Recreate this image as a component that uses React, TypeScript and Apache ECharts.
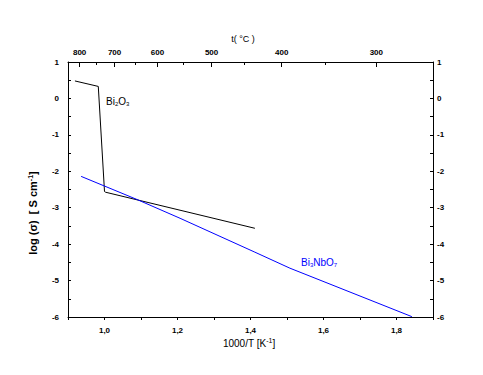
import React, { useEffect, useRef } from "react";
import * as echarts from "echarts";

// Bi2O3 conductivity: [1000/T (K^-1), log(sigma)]
const bi2o3X = [0.919, 0.983, 1.0, 1.003, 1.412];
const bi2o3Y = [0.48, 0.33, -2.555, -2.575, -3.565];

// Bi3NbO7 conductivity
const bi3nbo7X = [0.936, 1.088, 1.207, 1.412, 1.508, 1.842];
const bi3nbo7Y = [-2.14, -2.77, -3.29, -4.22, -4.66, -5.99];

// top axis temperatures (°C)
const tempMajor = [800, 700, 600, 500, 400, 300];
const tempMinor = [750, 650, 550, 450, 350];

const bottomLabels = [1.0, 1.2, 1.4, 1.6, 1.8];

const toInvT = (t: number) => 1000 / (t + 273.15);

export default function App() {
  const ref = useRef<HTMLDivElement>(null);
  useEffect(() => {
    if (!ref.current) return;
    const chart = echarts.init(ref.current, undefined, { renderer: "svg" });
    const font = "Liberation Sans, Arial, sans-serif";
    const tickLabel = { fontSize: 8, color: "#000", fontFamily: font, fontWeight: "bold" as const };
    const axisLine = { show: true, onZero: false, lineStyle: { color: "#000", width: 1 } };
    chart.setOption({
      animation: false,
      backgroundColor: "#fff",
      grid: { left: 68, right: 50, top: 62, bottom: 58, containLabel: false },
      xAxis: [
        {
          type: "value",
          position: "bottom",
          min: 0.9,
          max: 1.9,
          interval: 0.1,
          axisLine,
          axisTick: { show: true, inside: false, length: 3, lineStyle: { color: "#000" } },
          axisLabel: {
            ...tickLabel,
            margin: 9,
            customValues: bottomLabels,
            formatter: (v: number) => v.toFixed(1).replace(".", ","),
          },
          splitLine: { show: false },
        },
        {
          type: "value",
          position: "top",
          min: 0.9,
          max: 1.9,
          axisLine,
          axisTick: {
            show: true,
            inside: true,
            length: 5,
            customValues: tempMajor.map(toInvT),
            lineStyle: { color: "#000" },
          },
          axisLabel: {
            ...tickLabel,
            margin: 6,
            customValues: tempMajor.map(toInvT),
            formatter: (v: number) => String(Math.round(1000 / v - 273.15)),
          },
          splitLine: { show: false },
        },
        {
          type: "value",
          position: "top",
          min: 0.9,
          max: 1.9,
          axisLine: { show: false, onZero: false },
          axisTick: {
            show: true,
            inside: true,
            length: 3,
            customValues: tempMinor.map(toInvT),
            lineStyle: { color: "#000" },
          },
          axisLabel: { show: false },
          splitLine: { show: false },
        },
      ],
      yAxis: [
        {
          type: "value",
          position: "left",
          min: -6,
          max: 1,
          interval: 1,
          axisLine,
          axisTick: { show: true, inside: true, length: 3, lineStyle: { color: "#000" } },
          minorTick: { show: true, splitNumber: 2, length: 3, lineStyle: { color: "#000" } },
          axisLabel: { ...tickLabel, margin: 9 },
          splitLine: { show: false },
        },
        {
          type: "value",
          position: "right",
          min: -6,
          max: 1,
          interval: 1,
          axisLine,
          axisTick: { show: true, inside: true, length: 3, lineStyle: { color: "#000" } },
          minorTick: { show: true, splitNumber: 2, length: 3, lineStyle: { color: "#000" } },
          axisLabel: { ...tickLabel, margin: 4 },
          splitLine: { show: false },
        },
      ],
      series: [
        {
          name: "Bi2O3",
          type: "line",
          xAxisIndex: 0,
          yAxisIndex: 0,
          data: bi2o3X.map((x, i) => [x, bi2o3Y[i]]),
          symbol: "none",
          lineStyle: { color: "#000", width: 1 },
        },
        {
          name: "Bi3NbO7",
          type: "line",
          xAxisIndex: 0,
          yAxisIndex: 0,
          data: bi3nbo7X.map((x, i) => [x, bi3nbo7Y[i]]),
          symbol: "none",
          lineStyle: { color: "#0000ff", width: 1 },
        },
      ],
      graphic: [
        {
          type: "text",
          x: 243,
          y: 39,
          style: {
            text: "t( °C )",
            font: `9px ${font}`,
            fill: "#000",
            align: "center",
            verticalAlign: "middle",
          },
        },
        {
          type: "text",
          x: 249,
          y: 343,
          style: {
            text: "1000/T [K{sup|-1}]",
            fontSize: 10,
            fontFamily: font,
            fill: "#000",
            align: "center",
            verticalAlign: "middle",
            rich: {
              sup: { fontSize: 7, fontFamily: font, verticalAlign: "top", padding: [0, 0, 5, 0] },
            },
          },
        },
        {
          type: "text",
          x: 33,
          y: 213,
          rotation: Math.PI / 2,
          style: {
            text: "log (σ)  [ S cm{sup|-1}]",
            fontSize: 11,
            fontWeight: "bold",
            fontFamily: font,
            fill: "#000",
            align: "center",
            verticalAlign: "middle",
            rich: {
              sup: { fontSize: 7, fontWeight: "bold", fontFamily: font, padding: [0, 0, 6, 0] },
            },
          },
        },
        {
          type: "text",
          x: 106,
          y: 101,
          style: {
            text: "Bi{sub|2}O{sub|3}",
            fontSize: 10,
            fontFamily: font,
            fill: "#000",
            align: "left",
            verticalAlign: "middle",
            rich: {
              sub: { fontSize: 6, fontFamily: font, fill: "#000", padding: [5, 0, 0, 0] },
            },
          },
        },
        {
          type: "text",
          x: 301,
          y: 262,
          style: {
            text: "Bi{sub|3}NbO{sub|7}",
            fontSize: 10,
            fontFamily: font,
            fill: "#0000ff",
            align: "left",
            verticalAlign: "middle",
            rich: {
              sub: { fontSize: 6, fontFamily: font, fill: "#0000ff", padding: [5, 0, 0, 0] },
            },
          },
        },
      ],
    });
    return () => chart.dispose();
  }, []);
  return (
    <div
      ref={ref}
      style={{ position: "absolute", left: 0, top: 0, width: 483, height: 375 }}
    />
  );
}
